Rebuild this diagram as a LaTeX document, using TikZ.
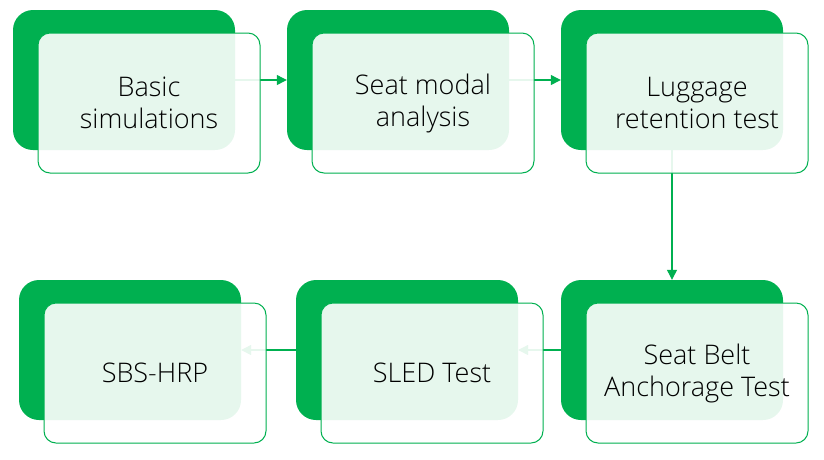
\documentclass[tikz,border=0pt]{standalone}
\usepackage{fontspec}
\setmainfont{Open Sans}[UprightFont=* Light]
\usetikzlibrary{arrows.meta}
\definecolor{stepgreen}{HTML}{00B050}
\begin{document}
\begin{tikzpicture}[x=1pt, y=-1pt,
    backbox/.style={rectangle, fill=stepgreen, rounded corners=20pt, minimum width=222pt, minimum height=140pt, inner sep=0pt},
    frontbox/.style={rectangle, draw=stepgreen, line width=1pt, fill=white, fill opacity=0.9, text opacity=1, rounded corners=12pt, minimum width=222pt, minimum height=140pt, inner sep=0pt, align=center, font=\fontsize{27}{32}\selectfont},
    flow/.style={-{Triangle[length=10pt, width=10pt]}, stepgreen, line width=1.2pt}
]
    \useasboundingbox (0,0) rectangle (824,459);

    % Rueckseiten
    \node[backbox] (back1) at (124,80) {};
    \node[backbox] (back2) at (398,80) {};
    \node[backbox] (back3) at (672,80) {};
    \node[backbox] (back4) at (672,350) {};
    \node[backbox] (back5) at (407,350) {};
    \node[backbox] (back6) at (130,350) {};

    % Pfeile
    \draw[flow] (back1) -- (back2);
    \draw[flow] (back2) -- (back3);
    \draw[flow] (back3) -- (back4);
    \draw[flow] (back4) -- (back5);
    \draw[flow] (back5) -- (back6);

    % Vorderseiten
    \node[frontbox] (front1) at (149,103) {Basic\\simulations};
    \node[frontbox] (front2) at (423,103) {Seat modal\\analysis};
    \node[frontbox] (front3) at (697,103) {Luggage\\retention test};
    \node[frontbox] (front4) at (697,373) {Seat Belt\\Anchorage Test};
    \node[frontbox] (front5) at (432,373) {SLED Test};
    \node[frontbox] (front6) at (155,373) {SBS-HRP};
\end{tikzpicture}
\end{document}
